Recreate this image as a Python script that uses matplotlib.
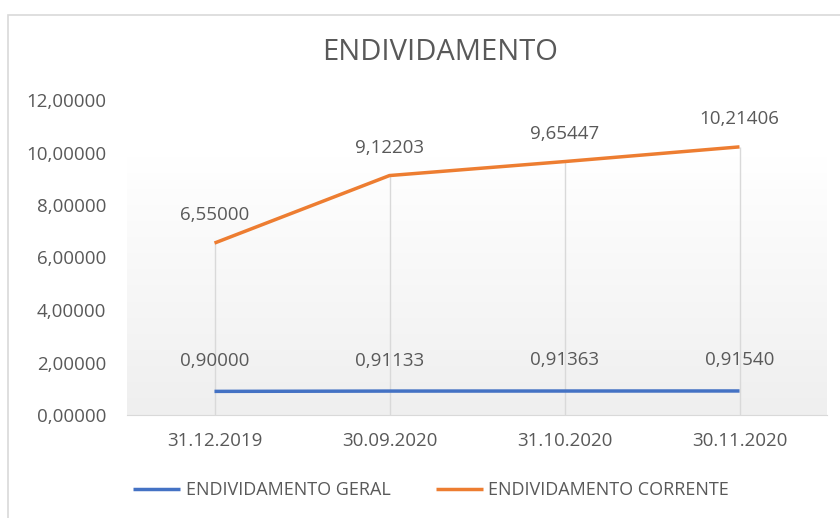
import numpy as np
import matplotlib.pyplot as plt
from matplotlib.patches import Rectangle
from matplotlib.colors import LinearSegmentedColormap

datas = ["31.12.2019", "30.09.2020", "31.10.2020", "30.11.2020"]
geral = [0.90000, 0.91133, 0.91363, 0.91540]
corrente = [6.55000, 9.12203, 9.65447, 10.21406]
y_ticks = [0, 2, 4, 6, 8, 10, 12]

azul = "#4472C4"
laranja = "#ED7D31"
cinza = "#595959"

plt.rcParams['font.family'] = ['Open Sans', 'DejaVu Sans']

fig = plt.figure(figsize=(8.4, 5.18), dpi=100)
ax = fig.add_axes([127/840, 1 - 415/518, 700/840, 315/518])

# moldura do gráfico
fig.patches.append(Rectangle((8/840, -0.1), 1.0, 1 - 15/518 + 0.1, transform=fig.transFigure,
                             fill=False, edgecolor="#d9d9d9", linewidth=1.2))

x = np.arange(len(datas))

# fundo em gradiente
cmap = LinearSegmentedColormap.from_list("g", ["#ffffff", "#efefef"])
grad = np.linspace(0, 1, 256).reshape(-1, 1)
ax.imshow(grad, extent=[-0.5, 3.5, 0, 9.85], aspect='auto', cmap=cmap, zorder=0, origin='upper')

# linhas verticais
ax.vlines(x, 0, corrente, color="#d9d9d9", linewidth=1, zorder=1)

ax.plot(x, geral, color=azul, linewidth=2.5, label="ENDIVIDAMENTO GERAL", zorder=3,
        solid_capstyle='butt')
ax.plot(x, corrente, color=laranja, linewidth=2.5, label="ENDIVIDAMENTO CORRENTE", zorder=3,
        solid_capstyle='butt')

for xi, v in zip(x, geral):
    ax.annotate(f"{v:.5f}".replace(".", ","), (xi, v), xytext=(0, 22), textcoords="offset points",
                ha="center", va="center", fontsize=13.5, color=cinza)
for xi, v in zip(x, corrente):
    ax.annotate(f"{v:.5f}".replace(".", ","), (xi, v), xytext=(0, 20), textcoords="offset points",
                ha="center", va="center", fontsize=13.5, color=cinza)

ax.set_xlim(-0.5, 3.5)
ax.set_ylim(0, 12)
ax.set_xticks(x)
ax.set_xticklabels(datas)
ax.set_yticks(y_ticks)
ax.set_yticklabels([f"{t:.5f}".replace(".", ",") for t in y_ticks])
ax.tick_params(axis='both', length=0, labelsize=13.5, labelcolor=cinza)
ax.tick_params(axis='y', pad=15)
ax.tick_params(axis='x', pad=12)
for s in ["top", "right", "left"]:
    ax.spines[s].set_visible(False)
ax.spines["bottom"].set_color("#d9d9d9")
ax.set_facecolor("none")

fig.text(440/840, 1 - 52/518, "ENDIVIDAMENTO", ha="center", va="center", fontsize=21, color=cinza)

leg = fig.legend(loc="center", bbox_to_anchor=(431/840, 1 - 490/518), ncol=2, frameon=False,
                 fontsize=13, handlelength=2.6, handletextpad=0.3, columnspacing=2.5)
for t in leg.get_texts():
    t.set_color(cinza)

fig.savefig("out.png", dpi=100)
